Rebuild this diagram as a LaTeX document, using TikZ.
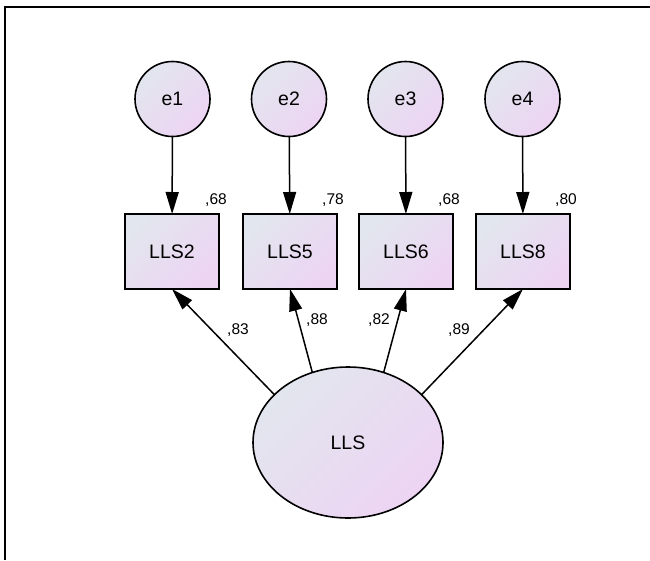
\documentclass[tikz,border=0pt]{standalone}
\usepackage{fontspec}
\setmainfont{Liberation Sans}
\usetikzlibrary{arrows.meta,shapes.geometric}
\definecolor{cA}{RGB}{226,230,238}
\definecolor{cB}{RGB}{237,212,243}
\begin{document}
\begin{tikzpicture}[x=1pt,y=-1pt,
  grad/.style={draw=black, line width=1.6pt, top color=cA, bottom color=cB, shading angle=45},
  errc/.style={grad, circle, minimum size=75pt, inner sep=0pt, outer sep=0pt, font=\fontsize{19.5}{19.5}\selectfont},
  obs/.style={grad, rectangle, minimum width=94pt, minimum height=75pt, inner sep=0pt, outer sep=0pt, font=\fontsize{19.5}{19.5}\selectfont},
  lat/.style={grad, ellipse, minimum width=190pt, minimum height=151pt, inner sep=0pt, outer sep=0pt, font=\fontsize{19.5}{19.5}\selectfont},
  arr/.style={line width=1.5pt, -{Triangle[length=22pt,width=13pt]}},
  lbl/.style={font=\fontsize{15.5}{15.5}\selectfont, inner sep=0pt}]
\useasboundingbox[fill=white] (0,0) rectangle (650,560);
\draw[line width=1.8pt] (5,560) -- (5,7) -- (650,7);

\node[errc] (e1) at (172.5,99) {e1};
\node[errc] (e2) at (289,99) {e2};
\node[errc] (e3) at (405.5,99) {e3};
\node[errc] (e4) at (522.5,99) {e4};

\node[obs] (b2) at (172,251.5) {LLS2};
\node[obs] (b5) at (290,251.5) {LLS5};
\node[obs] (b6) at (406,251.5) {LLS6};
\node[obs] (b8) at (523,251.5) {LLS8};

\node[lat] (lls) at (348,442.5) {LLS};

\draw[arr] (e1) -- (b2);
\draw[arr] (e2) -- (b5);
\draw[arr] (e3) -- (b6);
\draw[arr] (e4) -- (b8);

\draw[arr] (lls.147) -- (b2.south);
\draw[arr] (lls.117) -- (b5.south);
\draw[arr] (lls.63) -- (b6.south);
\draw[arr] (lls.33) -- (b8.south);

\node[lbl] (r2) at (216,200) {,68};
\node[lbl] (r5) at (333,200) {,78};
\node[lbl] (r6) at (449,200) {,68};
\node[lbl] (r8) at (566,200) {,80};

\node[lbl] (w2) at (238,330) {,83};
\node[lbl] (w5) at (317,320) {,88};
\node[lbl] (w6) at (379,320) {,82};
\node[lbl] (w8) at (459,330) {,89};
\end{tikzpicture}
\end{document}
